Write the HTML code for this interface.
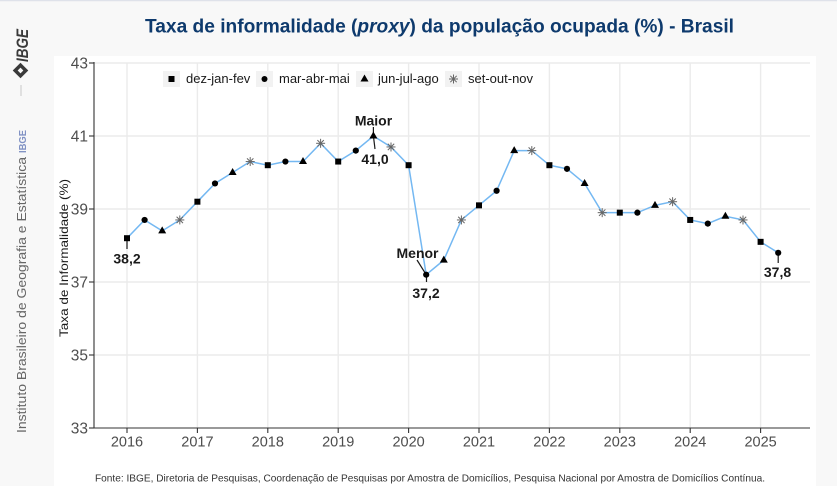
<!DOCTYPE html>
<html><head><meta charset="utf-8"><style>
html,body{margin:0;padding:0;background:#f8f8f8;}
svg{display:block;}
</style></head><body>
<svg width="837" height="486" viewBox="0 0 837 486" xmlns="http://www.w3.org/2000/svg" font-family="'Liberation Sans', Arial, sans-serif">
<rect x="0" y="0" width="837" height="486" fill="#f8f8f8"/>
<line x1="0" y1="0.5" x2="837" y2="0.5" stroke="#dfe2ea" stroke-width="1.5"/>
<rect x="54" y="56" width="762" height="430" fill="#ffffff"/>

<!-- sidebar -->
<text transform="translate(28,62) rotate(-90)" font-size="17" font-weight="bold" font-style="italic" fill="#3a3a3a" textLength="33" lengthAdjust="spacingAndGlyphs">IBGE</text>
<g transform="translate(20.5,70.5) rotate(45)">
<rect x="-5.5" y="-5.5" width="11" height="11" fill="#3a3a3a"/>
<rect x="-2" y="-2" width="4" height="4" fill="#f8f8f8"/>
</g>
<line x1="21" y1="85" x2="21" y2="96" stroke="#c8c8c8" stroke-width="1"/>
<text transform="translate(26,153) rotate(-90)" font-size="10" font-weight="bold" fill="#8192c4" textLength="23" lengthAdjust="spacingAndGlyphs">IBGE</text>
<text transform="translate(26,433) rotate(-90)" font-size="12.5" fill="#666666" textLength="276" lengthAdjust="spacingAndGlyphs">Instituto Brasileiro de Geografia e Estatística</text>

<!-- title -->
<text x="145" y="32.3" font-size="19.5" font-weight="bold" fill="#0e3a6d" textLength="589" lengthAdjust="spacingAndGlyphs">Taxa de informalidade (<tspan font-style="italic">proxy</tspan>) da população ocupada (%) - Brasil</text>

<!-- grid -->
<g stroke="#ebebeb" stroke-width="1.4">
<line x1="94" y1="63" x2="810" y2="63"/>
<line x1="94" y1="136" x2="810" y2="136"/>
<line x1="94" y1="209" x2="810" y2="209"/>
<line x1="94" y1="282" x2="810" y2="282"/>
<line x1="94" y1="355" x2="810" y2="355"/>
<line x1="127" y1="63" x2="127" y2="428"/>
<line x1="197.4" y1="63" x2="197.4" y2="428"/>
<line x1="267.8" y1="63" x2="267.8" y2="428"/>
<line x1="338.2" y1="63" x2="338.2" y2="428"/>
<line x1="408.6" y1="63" x2="408.6" y2="428"/>
<line x1="479" y1="63" x2="479" y2="428"/>
<line x1="549.4" y1="63" x2="549.4" y2="428"/>
<line x1="619.8" y1="63" x2="619.8" y2="428"/>
<line x1="690.2" y1="63" x2="690.2" y2="428"/>
<line x1="760.6" y1="63" x2="760.6" y2="428"/>
</g>

<!-- axes -->
<g stroke="#333333" stroke-width="1.1">
<line x1="94" y1="62" x2="94" y2="428.5"/>
<line x1="93.5" y1="428" x2="810" y2="428"/>
<line x1="89" y1="63" x2="94" y2="63"/>
<line x1="89" y1="136" x2="94" y2="136"/>
<line x1="89" y1="209" x2="94" y2="209"/>
<line x1="89" y1="282" x2="94" y2="282"/>
<line x1="89" y1="355" x2="94" y2="355"/>
<line x1="89" y1="428" x2="94" y2="428"/>
<line x1="127" y1="428" x2="127" y2="433"/>
<line x1="197.4" y1="428" x2="197.4" y2="433"/>
<line x1="267.8" y1="428" x2="267.8" y2="433"/>
<line x1="338.2" y1="428" x2="338.2" y2="433"/>
<line x1="408.6" y1="428" x2="408.6" y2="433"/>
<line x1="479" y1="428" x2="479" y2="433"/>
<line x1="549.4" y1="428" x2="549.4" y2="433"/>
<line x1="619.8" y1="428" x2="619.8" y2="433"/>
<line x1="690.2" y1="428" x2="690.2" y2="433"/>
<line x1="760.6" y1="428" x2="760.6" y2="433"/>
</g>

<!-- y tick labels -->
<g font-size="15.5" fill="#4d4d4d" text-anchor="end">
<text x="88" y="68.5">43</text>
<text x="88" y="141.5">41</text>
<text x="88" y="214.5">39</text>
<text x="88" y="287.5">37</text>
<text x="88" y="360.5">35</text>
<text x="88" y="433.5">33</text>
</g>
<!-- x tick labels -->
<g font-size="14.5" fill="#4d4d4d" text-anchor="middle">
<text x="127" y="446.5">2016</text>
<text x="197.4" y="446.5">2017</text>
<text x="267.8" y="446.5">2018</text>
<text x="338.2" y="446.5">2019</text>
<text x="408.6" y="446.5">2020</text>
<text x="479" y="446.5">2021</text>
<text x="549.4" y="446.5">2022</text>
<text x="619.8" y="446.5">2023</text>
<text x="690.2" y="446.5">2024</text>
<text x="760.6" y="446.5">2025</text>
</g>

<!-- y axis title -->
<text transform="translate(68,258) rotate(-90)" font-size="12" fill="#1a1a1a" text-anchor="middle" textLength="158" lengthAdjust="spacingAndGlyphs">Taxa de Informalidade (%)</text>

<!-- legend -->
<g>
<rect x="163" y="71" width="17" height="16" fill="#f2f2f2"/>
<rect x="256" y="71" width="17" height="16" fill="#f2f2f2"/>
<rect x="356" y="71" width="17" height="16" fill="#f2f2f2"/>
<rect x="445" y="71" width="17" height="16" fill="#f2f2f2"/>
<rect x="168.5" y="76" width="6" height="6" fill="#000"/>
<circle cx="264.5" cy="79" r="3" fill="#000"/>
<polygon points="364.5,74.5 360.5,81.5 368.5,81.5" fill="#000"/>
<g stroke="#666" stroke-width="1" transform="translate(453.5,79)">
<line x1="-4.5" y1="0" x2="4.5" y2="0"/><line x1="0" y1="-4.5" x2="0" y2="4.5"/>
<line x1="-3.2" y1="-3.2" x2="3.2" y2="3.2"/><line x1="-3.2" y1="3.2" x2="3.2" y2="-3.2"/>
</g>
<g font-size="13" fill="#1a1a1a">
<text x="186" y="83">dez-jan-fev</text>
<text x="279" y="83">mar-abr-mai</text>
<text x="378" y="83">jun-jul-ago</text>
<text x="468" y="83">set-out-nov</text>
</g>
</g>

<!-- series line -->
<polyline fill="none" stroke="#74b8f2" stroke-width="1.5" points="127,238.2 144.6,219.95 162.2,230.9 179.8,219.95 197.4,201.7 215,183.45 232.6,172.5 250.2,161.55 267.8,165.2 285.4,161.55 303,161.55 320.6,143.3 338.2,161.55 355.8,150.6 373.4,136 391,146.95 408.6,165.2 426.2,274.7 443.8,260.1 461.4,219.95 479,205.35 496.6,190.75 514.2,150.6 531.8,150.6 549.4,165.2 567,168.85 584.6,183.45 602.2,212.65 619.8,212.65 637.4,212.65 655,205.35 672.6,201.7 690.2,219.95 707.8,223.6 725.4,216.3 743,219.95 760.6,241.85 778.2,252.8"/>

<!-- annotation segments -->
<g stroke="#1a1a1a" stroke-width="1.2">
<line x1="127" y1="238" x2="127" y2="249"/>
<line x1="373.4" y1="127" x2="373.4" y2="136"/>
<line x1="373.4" y1="136" x2="375" y2="149"/>
<line x1="417" y1="260" x2="426.2" y2="274.7"/>
<line x1="426.5" y1="274.7" x2="426.5" y2="282"/>
<line x1="778.2" y1="252.8" x2="778.2" y2="263"/>
</g>

<!-- markers: squares -->
<g fill="#000">
<rect x="124" y="235.2" width="6" height="6"/>
<rect x="194.4" y="198.7" width="6" height="6"/>
<rect x="264.8" y="162.2" width="6" height="6"/>
<rect x="335.2" y="158.55" width="6" height="6"/>
<rect x="405.6" y="162.2" width="6" height="6"/>
<rect x="476" y="202.35" width="6" height="6"/>
<rect x="546.4" y="162.2" width="6" height="6"/>
<rect x="616.8" y="209.65" width="6" height="6"/>
<rect x="687.2" y="216.95" width="6" height="6"/>
<rect x="757.6" y="238.85" width="6" height="6"/>
</g>
<!-- circles -->
<g fill="#000">
<circle cx="144.6" cy="219.95" r="3.1"/>
<circle cx="215" cy="183.45" r="3.1"/>
<circle cx="285.4" cy="161.55" r="3.1"/>
<circle cx="355.8" cy="150.6" r="3.1"/>
<circle cx="426.2" cy="274.7" r="3.1"/>
<circle cx="496.6" cy="190.75" r="3.1"/>
<circle cx="567" cy="168.85" r="3.1"/>
<circle cx="637.4" cy="212.65" r="3.1"/>
<circle cx="707.8" cy="223.6" r="3.1"/>
<circle cx="778.2" cy="252.8" r="3.1"/>
</g>
<!-- triangles -->
<g fill="#000">
<polygon points="162.2,226.4 158.2,233.4 166.2,233.4"/>
<polygon points="232.6,168 228.6,175 236.6,175"/>
<polygon points="303,157.05 299,164.05 307,164.05"/>
<polygon points="373.4,131.5 369.4,138.5 377.4,138.5"/>
<polygon points="443.8,255.6 439.8,262.6 447.8,262.6"/>
<polygon points="514.2,146.1 510.2,153.1 518.2,153.1"/>
<polygon points="584.6,178.95 580.6,185.95 588.6,185.95"/>
<polygon points="655,200.85 651,207.85 659,207.85"/>
<polygon points="725.4,211.8 721.4,218.8 729.4,218.8"/>
</g>
<!-- asterisks -->
<g stroke="#666" stroke-width="1">
<g transform="translate(179.8,219.95)"><line x1="-4.5" y1="0" x2="4.5" y2="0"/><line x1="0" y1="-4.5" x2="0" y2="4.5"/><line x1="-3.2" y1="-3.2" x2="3.2" y2="3.2"/><line x1="-3.2" y1="3.2" x2="3.2" y2="-3.2"/></g>
<g transform="translate(250.2,161.55)"><line x1="-4.5" y1="0" x2="4.5" y2="0"/><line x1="0" y1="-4.5" x2="0" y2="4.5"/><line x1="-3.2" y1="-3.2" x2="3.2" y2="3.2"/><line x1="-3.2" y1="3.2" x2="3.2" y2="-3.2"/></g>
<g transform="translate(320.6,143.3)"><line x1="-4.5" y1="0" x2="4.5" y2="0"/><line x1="0" y1="-4.5" x2="0" y2="4.5"/><line x1="-3.2" y1="-3.2" x2="3.2" y2="3.2"/><line x1="-3.2" y1="3.2" x2="3.2" y2="-3.2"/></g>
<g transform="translate(391,146.95)"><line x1="-4.5" y1="0" x2="4.5" y2="0"/><line x1="0" y1="-4.5" x2="0" y2="4.5"/><line x1="-3.2" y1="-3.2" x2="3.2" y2="3.2"/><line x1="-3.2" y1="3.2" x2="3.2" y2="-3.2"/></g>
<g transform="translate(461.4,219.95)"><line x1="-4.5" y1="0" x2="4.5" y2="0"/><line x1="0" y1="-4.5" x2="0" y2="4.5"/><line x1="-3.2" y1="-3.2" x2="3.2" y2="3.2"/><line x1="-3.2" y1="3.2" x2="3.2" y2="-3.2"/></g>
<g transform="translate(531.8,150.6)"><line x1="-4.5" y1="0" x2="4.5" y2="0"/><line x1="0" y1="-4.5" x2="0" y2="4.5"/><line x1="-3.2" y1="-3.2" x2="3.2" y2="3.2"/><line x1="-3.2" y1="3.2" x2="3.2" y2="-3.2"/></g>
<g transform="translate(602.2,212.65)"><line x1="-4.5" y1="0" x2="4.5" y2="0"/><line x1="0" y1="-4.5" x2="0" y2="4.5"/><line x1="-3.2" y1="-3.2" x2="3.2" y2="3.2"/><line x1="-3.2" y1="3.2" x2="3.2" y2="-3.2"/></g>
<g transform="translate(672.6,201.7)"><line x1="-4.5" y1="0" x2="4.5" y2="0"/><line x1="0" y1="-4.5" x2="0" y2="4.5"/><line x1="-3.2" y1="-3.2" x2="3.2" y2="3.2"/><line x1="-3.2" y1="3.2" x2="3.2" y2="-3.2"/></g>
<g transform="translate(743,219.95)"><line x1="-4.5" y1="0" x2="4.5" y2="0"/><line x1="0" y1="-4.5" x2="0" y2="4.5"/><line x1="-3.2" y1="-3.2" x2="3.2" y2="3.2"/><line x1="-3.2" y1="3.2" x2="3.2" y2="-3.2"/></g>
</g>

<!-- annotation labels -->
<g font-size="14" font-weight="bold" fill="#1a1a1a" text-anchor="middle">
<text x="127" y="263.5">38,2</text>
<text x="373.5" y="125.5">Maior</text>
<text x="375" y="164">41,0</text>
<text x="417.5" y="258">Menor</text>
<text x="426" y="298">37,2</text>
<text x="777.5" y="277">37,8</text>
</g>

<!-- source -->
<text x="95" y="481.5" font-size="10.5" fill="#333333" textLength="670" lengthAdjust="spacingAndGlyphs">Fonte: IBGE, Diretoria de Pesquisas, Coordenação de Pesquisas por Amostra de Domicílios, Pesquisa Nacional por Amostra de Domicílios Contínua.</text>
</svg>
</body></html>
